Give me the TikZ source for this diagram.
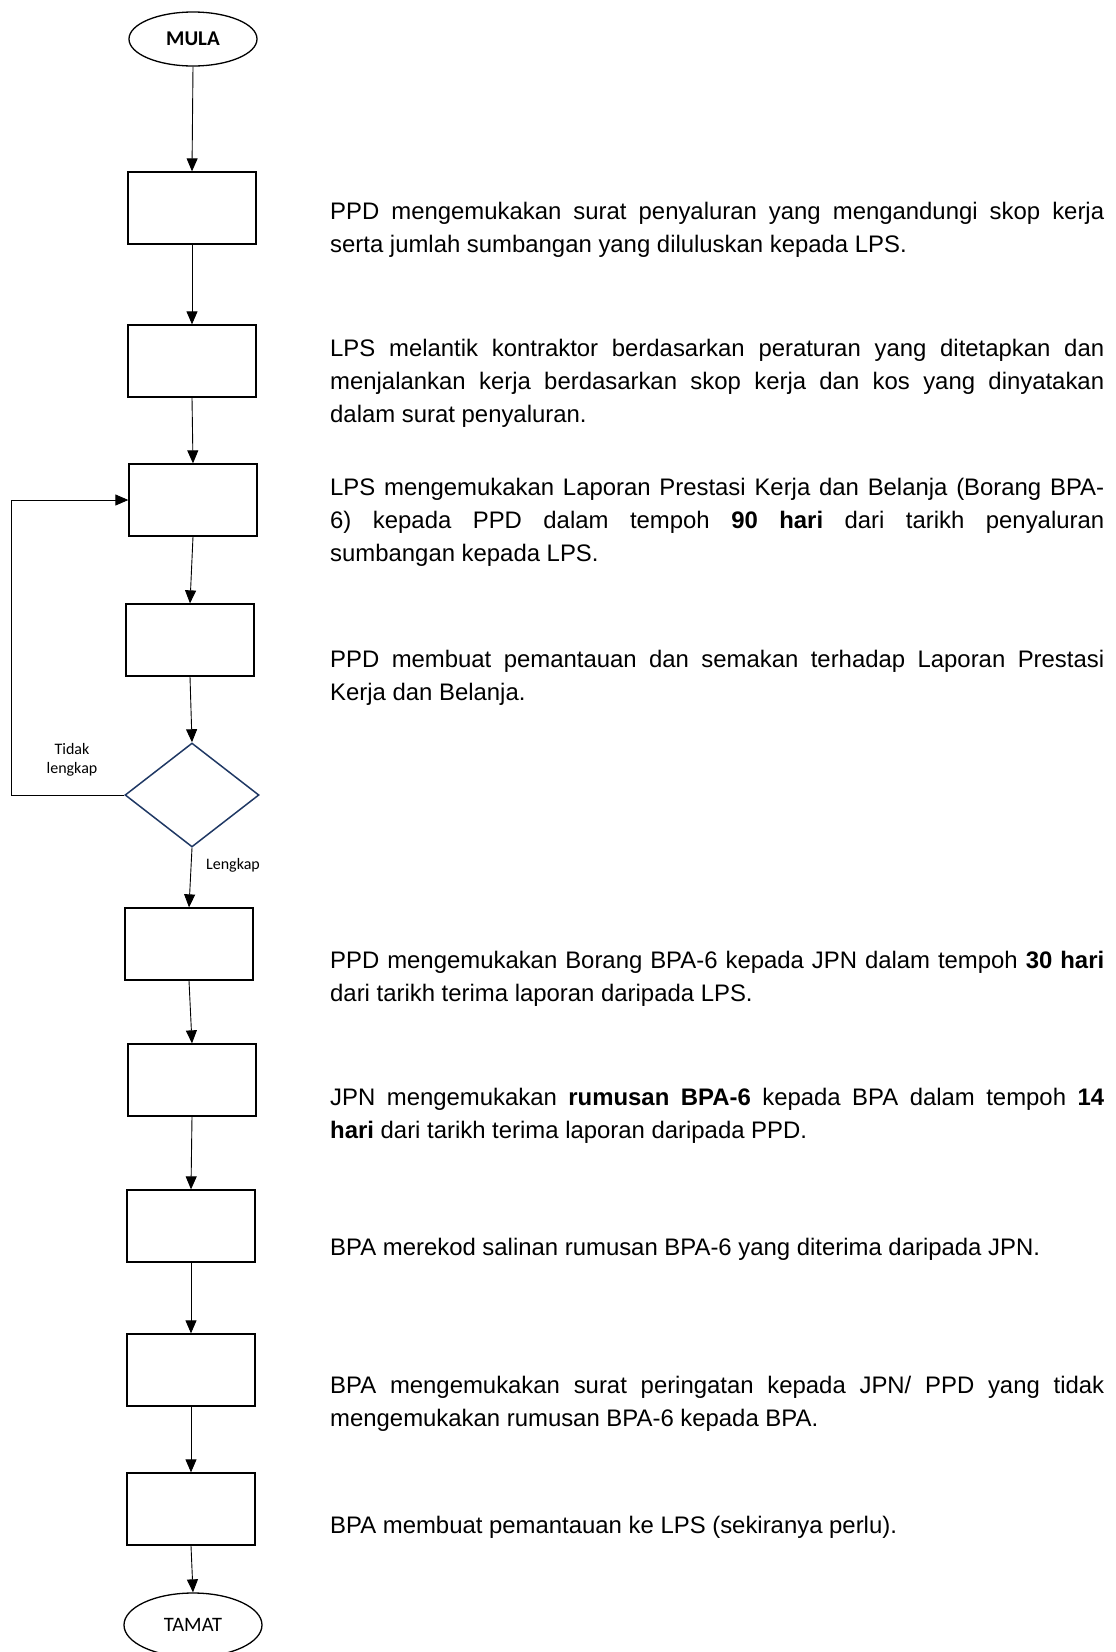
\documentclass[tikz,border=0pt]{standalone}
\usepackage{fontspec}
\setmainfont{Liberation Sans}
\newfontfamily\calib{Carlito}
\usetikzlibrary{shapes.geometric,arrows.meta}
\definecolor{navy}{RGB}{31,56,100}
\hyphenpenalty=10000
\exhyphenpenalty=10000
\hbadness=10000
\begin{document}
\begin{tikzpicture}[x=1pt,y=-1pt,
  stepbox/.style={draw, line width=1.3pt, minimum width=128pt, minimum height=72pt, inner sep=0pt},
  term/.style={draw, ellipse, line width=1.3pt, inner sep=0pt, font=\calib\fontsize{20.5}{24}\selectfont},
  dec/.style={draw=navy, diamond, line width=1.5pt, minimum width=134pt, minimum height=104pt, inner sep=0pt},
  arr/.style={-{Triangle[length=13pt,width=11pt]}, line width=0.9pt},
  desc/.style={anchor=base west, text width=774pt, align=justify, inner sep=0pt,
    font=\fontsize{23.9}{33}\selectfont},
  lbl/.style={inner sep=0pt, align=center, font=\calib\fontsize{16}{19}\selectfont}]
\useasboundingbox (0,0) rectangle (1116,1652);

% flow nodes
\node[term, font=\calib\bfseries\fontsize{21}{24}\selectfont, minimum width=128pt, minimum height=54pt] (mula) at (193,39) {MULA};
\node[stepbox] (b1) at (192,208) {};
\node[stepbox] (b2) at (192,361) {};
\node[stepbox] (b3) at (193,500) {};
\node[stepbox] (b4) at (190,640) {};
\node[dec] (d) at (192,795) {};
\node[stepbox] (b5) at (189,944) {};
\node[stepbox] (b6) at (192,1080) {};
\node[stepbox] (b7) at (191,1226) {};
\node[stepbox] (b8) at (191,1370) {};
\node[stepbox] (b9) at (191,1509) {};
\node[term, minimum width=138pt, minimum height=64pt] (tamat) at (193,1625) {TAMAT};

% connectors
\draw[arr] (mula.south) -- (b1.north);
\draw[arr] (b1.south) -- (b2.north);
\draw[arr] (b2.south) -- (b3.north);
\draw[arr] (b3.south) -- (b4.north);
\draw[arr] (b4.south) -- (d.north);
\draw[arr] (d.south) -- (b5.north);
\draw[arr] (b5.south) -- (b6.north);
\draw[arr] (b6.south) -- (b7.north);
\draw[arr] (b7.south) -- (b8.north);
\draw[arr] (b8.south) -- (b9.north);
\draw[arr] (b9.south) -- (tamat.north);
\coordinate (loopx) at (11,795);
\draw[arr] (d.west) -- (loopx) |- (b3.west);

\node[lbl] (tl) at (72,760) {Tidak\\lengkap};
\node[lbl] (lk) at (233,865) {Lengkap};

% descriptions
\node[desc] (t1) at (330,219) {PPD mengemukakan surat penyaluran yang mengandungi skop kerja\linebreak serta jumlah sumbangan yang diluluskan kepada LPS.};
\node[desc] (t2) at (330,356) {LPS melantik kontraktor berdasarkan peraturan yang ditetapkan dan\linebreak menjalankan kerja berdasarkan skop kerja dan kos yang dinyatakan\linebreak dalam surat penyaluran.};
\node[desc] (t3) at (330,495) {LPS mengemukakan Laporan Prestasi Kerja dan Belanja (Borang BPA-\linebreak 6) kepada PPD dalam tempoh \textbf{90 hari} dari tarikh penyaluran\linebreak sumbangan kepada LPS.};
\node[desc] (t4) at (330,667) {PPD membuat pemantauan dan semakan terhadap Laporan Prestasi\linebreak Kerja dan Belanja.};
\node[desc] (t5) at (330,968) {PPD mengemukakan Borang BPA-6 kepada JPN dalam tempoh \textbf{30 hari}\linebreak dari tarikh terima laporan daripada LPS.};
\node[desc] (t6) at (330,1105) {JPN mengemukakan \textbf{rumusan BPA-6} kepada BPA dalam tempoh \textbf{14}\linebreak \textbf{hari} dari tarikh terima laporan daripada PPD.};
\node[desc] (t7) at (330,1255) {BPA merekod salinan rumusan BPA-6 yang diterima daripada JPN.};
\node[desc] (t8) at (330,1393) {BPA mengemukakan surat peringatan kepada JPN/ PPD yang tidak\linebreak mengemukakan rumusan BPA-6 kepada BPA.};
\node[desc] (t9) at (330,1533) {BPA membuat pemantauan ke LPS (sekiranya perlu).};
\end{tikzpicture}
\end{document}
